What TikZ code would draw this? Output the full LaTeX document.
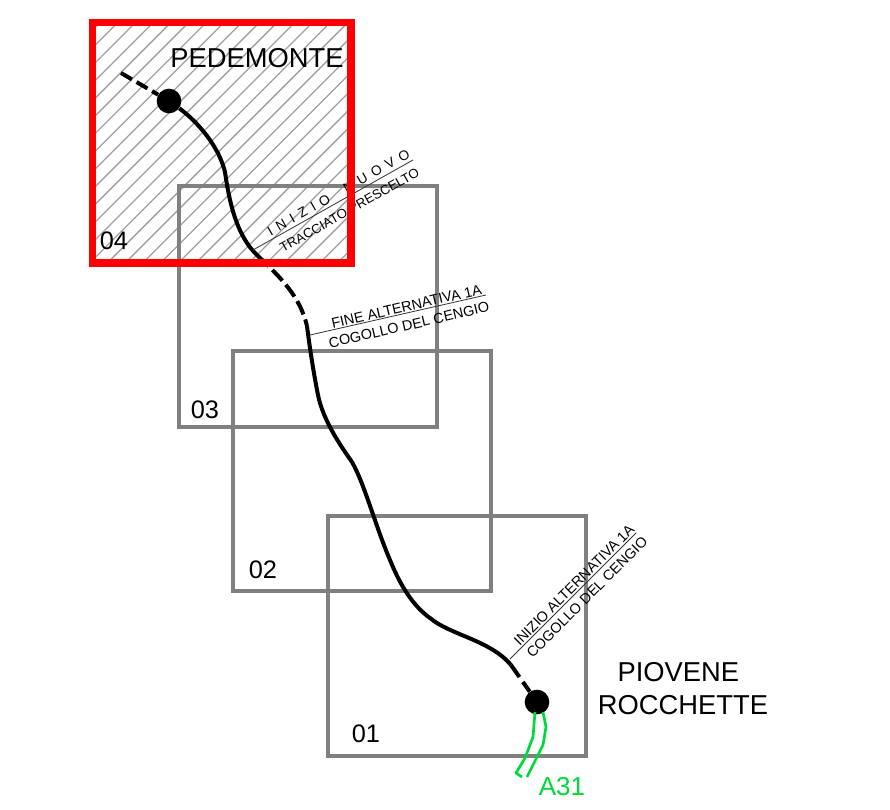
\documentclass[tikz,border=0pt]{standalone}
\usepackage{fontspec}
\setmainfont{Liberation Sans}
\usetikzlibrary{calc}
\definecolor{sheetgray}{HTML}{808080}
\definecolor{hatchgray}{HTML}{A0A0A0}
\definecolor{redframe}{HTML}{FF0000}
\definecolor{roadgreen}{HTML}{00D93A}
\tikzset{
  sheet/.style={draw=sheetgray,line width=2.6pt,fill=none},
  route/.style={draw=black,line width=3pt,line cap=butt,line join=round},
  routedash/.style={route,dash pattern=on 11pt off 4pt},
  leader/.style={draw=black!80,line width=0.6pt},
  smalllabel/.style={inner sep=0pt,font=\fontsize{10.8}{12}\selectfont,text=black},
  biglabel/.style={inner sep=0pt,font=\fontsize{20.5}{24.75}\selectfont,align=center,text=black},
  numlabel/.style={inner sep=0pt,font=\fontsize{19}{22}\selectfont,text=black},
  townpoint/.style={circle,fill=black,inner sep=0pt,minimum size=18.5pt},
  greenroad/.style={draw=roadgreen,line width=2pt,line join=round},
}
\begin{document}
\begin{tikzpicture}[x=0.75pt,y=-0.75pt]
\useasboundingbox (0,0) rectangle (890,810);
% hatching
\begin{scope}
\clip (92.5,22.5) rectangle (351,263);
\foreach \k in {-2,...,27} {
  \pgfmathsetmacro{\c}{140.3+17.7*\k}
  \draw[hatchgray,line width=1pt] (0,\c) -- (\c,0);
}
\end{scope}
% sheets
\draw[sheet] (179,186) rectangle (437,427);
\draw[sheet] (233,351) rectangle (491,591);
\draw[sheet] (328,516) rectangle (586,756);
% route
\node[townpoint] (north) at (169,101) {};
\node[townpoint] (south) at (537,702) {};
\coordinate (northend) at (121,73);
\coordinate (a) at (258,256);
\coordinate (b) at (307,326);
\coordinate (c) at (511,665);
\draw[route,dash pattern=on 9.5pt off 4pt] (northend) -- (north);
\draw[route] (north) .. controls (190,116) and (217,140) .. (225,172)
  .. controls (229,200) and (236,236) .. (a);
\draw[routedash] (a) .. controls (280,277) and (300,296) .. (b);
\draw[route] (b) .. controls (310,350) and (314,375) .. (318,395)
  .. controls (323,420) and (340,445) .. (352,462)
  .. controls (365,485) and (375,525) .. (390,560)
  .. controls (400,585) and (413,606) .. (430,618)
  .. controls (450,635) and (490,640) .. (c);
\draw[route,dash pattern=on 11pt off 4.5pt] (c) -- (south);
% motorway
\coordinate (g1) at (535,712);
\coordinate (g2) at (543,712);
\draw[greenroad] (g1) -- (533,737) -- (525,758) -- (516,773) -- (522,777);
\draw[greenroad] (g2) -- (546,727) -- (543,745) -- (527,777);
% leaders + small labels
\coordinate (l1a) at (253,250); \coordinate (l1b) at (413,160);
\coordinate (l2a) at (310,335); \coordinate (l2b) at (486,295);
\coordinate (l3a) at (510,659); \coordinate (l3b) at (636,533);
\draw[leader] (l1a) -- (l1b);
\draw[leader] (l2a) -- (l2b);
\draw[leader] (l3a) -- (l3b);
\node[smalllabel,rotate=29.5,font=\fontsize{10.3}{12}\selectfont] (n1) at (338.5,192.5) {I\hspace{4.4pt}N\hspace{4.4pt}I\hspace{4.4pt}Z\hspace{4.4pt}I\hspace{4.4pt}O\hspace{13pt}N\hspace{4.4pt}U\hspace{4.4pt}O\hspace{4.4pt}V\hspace{4.4pt}O};
\node[smalllabel,rotate=29.5,font=\fontsize{9.9}{12}\selectfont] (n2) at (349.5,210) {TRACCIATO PRESCELTO};
\node[smalllabel,rotate=13] (n3) at (406.5,306.5) {FINE ALTERNATIVA 1A};
\node[smalllabel,rotate=13] (n4) at (409,325) {COGOLLO DEL CENGIO};
\node[smalllabel,rotate=45] (n5) at (574,585) {INIZIO ALTERNATIVA 1A};
\node[smalllabel,rotate=45] (n6) at (587,597) {COGOLLO DEL CENGIO};
% red frame
\draw[redframe,line width=5.6pt] (92.5,22.5) rectangle (351,263);
% labels
\node[biglabel] (ped) at (257,58) {PEDEMONTE};
\node[biglabel] (pio) at (683,689) {PIOVENE\rule{7pt}{0pt}\\ROCCHETTE};
\node[numlabel] (s4) at (114,241) {04};
\node[numlabel] (s3) at (205,410) {03};
\node[numlabel] (s2) at (263,570) {02};
\node[numlabel] (s1) at (366,734) {01};
\node[numlabel,font=\fontsize{19.5}{22}\selectfont,text=roadgreen] (a31) at (562,787) {A31};
\end{tikzpicture}
\end{document}
